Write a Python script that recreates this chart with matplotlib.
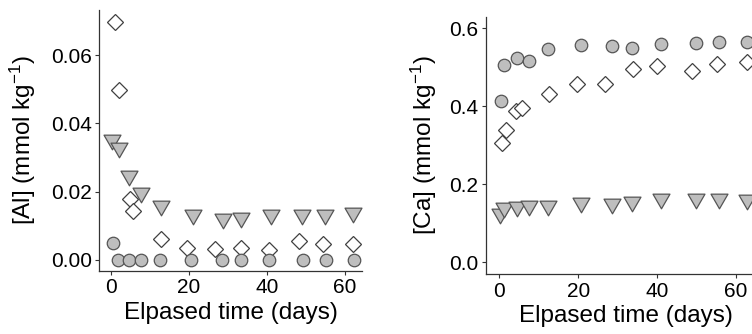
import numpy as np
import matplotlib
matplotlib.use("Agg")
from matplotlib import pyplot as plt
from matplotlib.path import Path

plt.rcParams['font.family'] = ['Liberation Sans', 'DejaVu Sans']
plt.rcParams['mathtext.fontset'] = 'custom'
plt.rcParams['mathtext.rm'] = 'Liberation Sans'
plt.rcParams['mathtext.it'] = 'Liberation Sans:italic'

# ---- Al panel (mmol/kg) ----
al_circ_t = [0.7, 1.8, 4.8, 7.8, 12.6, 20.7, 28.5, 33.4, 40.7, 49.2, 55.2, 62.3]
al_circ_v = [0.0050, 0, 0, 0, 0, 0, 0, 0, 0, 0, 0, 0]
al_diam_t = [1.1, 2.1, 4.95, 5.8, 12.8, 19.6, 26.7, 33.3, 40.6, 48.3, 54.5, 62.2]
al_diam_v = [0.0698, 0.0497, 0.0178, 0.0144, 0.0060, 0.0035, 0.0031, 0.0034,
             0.0030, 0.0056, 0.0045, 0.0047]
al_tri_t = [0.25, 2.1, 4.6, 7.9, 12.8, 21.0, 28.7, 33.3, 41.0, 49.0, 55.0, 62.2]
al_tri_v = [0.0347, 0.0322, 0.0240, 0.0191, 0.0152, 0.0126, 0.0115, 0.0118,
            0.0126, 0.0126, 0.0126, 0.0131]

# ---- Ca panel (mmol/kg) ----
ca_circ_t = [0.35, 1.3, 4.4, 7.6, 12.4, 20.7, 28.5, 33.6, 41.0, 49.8, 55.8, 62.8]
ca_circ_v = [0.414, 0.505, 0.524, 0.516, 0.545, 0.556, 0.554, 0.548, 0.559,
             0.562, 0.563, 0.563]
ca_diam_t = [0.6, 1.6, 4.2, 5.7, 12.7, 19.8, 26.8, 33.8, 40.0, 48.8, 55.2, 62.8]
ca_diam_v = [0.306, 0.339, 0.388, 0.396, 0.431, 0.456, 0.456, 0.494, 0.503,
             0.490, 0.507, 0.512]
ca_tri_t = [0.2, 1.2, 4.4, 7.6, 12.4, 20.7, 28.7, 33.6, 41.0, 49.8, 55.8, 62.8]
ca_tri_v = [0.118, 0.133, 0.136, 0.138, 0.140, 0.146, 0.144, 0.150, 0.157,
            0.156, 0.156, 0.155]

# equilateral down-pointing triangle, centred on its bounding box
tri = Path([(-1, 0.866), (1, 0.866), (0, -0.866), (-1, 0.866)],
           [Path.MOVETO, Path.LINETO, Path.LINETO, Path.CLOSEPOLY])

grey_fill = '#BEBEBE'
grey_edge = '#555555'
axis_col = '#333333'


def draw_panel(ax, ct, cv, dt, dv, tt, tv):
    ax.plot(tt, tv, linestyle='none', marker=tri, markersize=12.2,
            markerfacecolor=grey_fill, markeredgecolor=grey_edge,
            markeredgewidth=0.9, clip_on=False, zorder=3)
    ax.plot(dt, dv, linestyle='none', marker='D', markersize=8.4,
            markerfacecolor='white', markeredgecolor='#404040',
            markeredgewidth=0.9, clip_on=False, zorder=4)
    ax.plot(ct, cv, linestyle='none', marker='o', markersize=9.0,
            markerfacecolor=grey_fill, markeredgecolor=grey_edge,
            markeredgewidth=0.9, clip_on=False, zorder=5)
    for s in ['top', 'right']:
        ax.spines[s].set_visible(False)
    for s in ['left', 'bottom']:
        ax.spines[s].set_color(axis_col)
        ax.spines[s].set_linewidth(0.9)
    ax.tick_params(direction='out', length=3, width=0.8, color=axis_col,
                   labelsize=15, labelcolor='black', pad=2.5)
    ax.set_xticks([0, 20, 40, 60])
    ax.set_xlabel('Elpased time (days)', fontsize=17.5, labelpad=3)


fig = plt.figure(figsize=(7.52, 3.34), dpi=100)

ax1 = fig.add_axes([99.3 / 752, (334 - 270.7) / 334, 262.4 / 752, 260.7 / 334])
draw_panel(ax1, al_circ_t, al_circ_v, al_diam_t, al_diam_v, al_tri_t, al_tri_v)
ax1.set_xlim(-2.92, 64.36)
ax1.set_ylim(-0.0032, 0.0733)
ax1.set_yticks([0.00, 0.02, 0.04, 0.06])
ax1.set_yticklabels(['0.00', '0.02', '0.04', '0.06'])
ax1.set_ylabel(r'[Al] (mmol kg$^{-1}$)', fontsize=17.5, labelpad=9)

ax2 = fig.add_axes([486 / 752, (334 - 274) / 334, 279 / 752, 257.3 / 334])
draw_panel(ax2, ca_circ_t, ca_circ_v, ca_diam_t, ca_diam_v, ca_tri_t, ca_tri_v)
ax2.set_xlim(-3.38, 67.4)
ax2.set_ylim(-0.030, 0.629)
ax2.set_yticks([0.0, 0.2, 0.4, 0.6])
ax2.set_yticklabels(['0.0', '0.2', '0.4', '0.6'])
ax2.set_ylabel(r'[Ca] (mmol kg$^{-1}$)', fontsize=17.5, labelpad=7)

fig.savefig('out.png', dpi=100)
